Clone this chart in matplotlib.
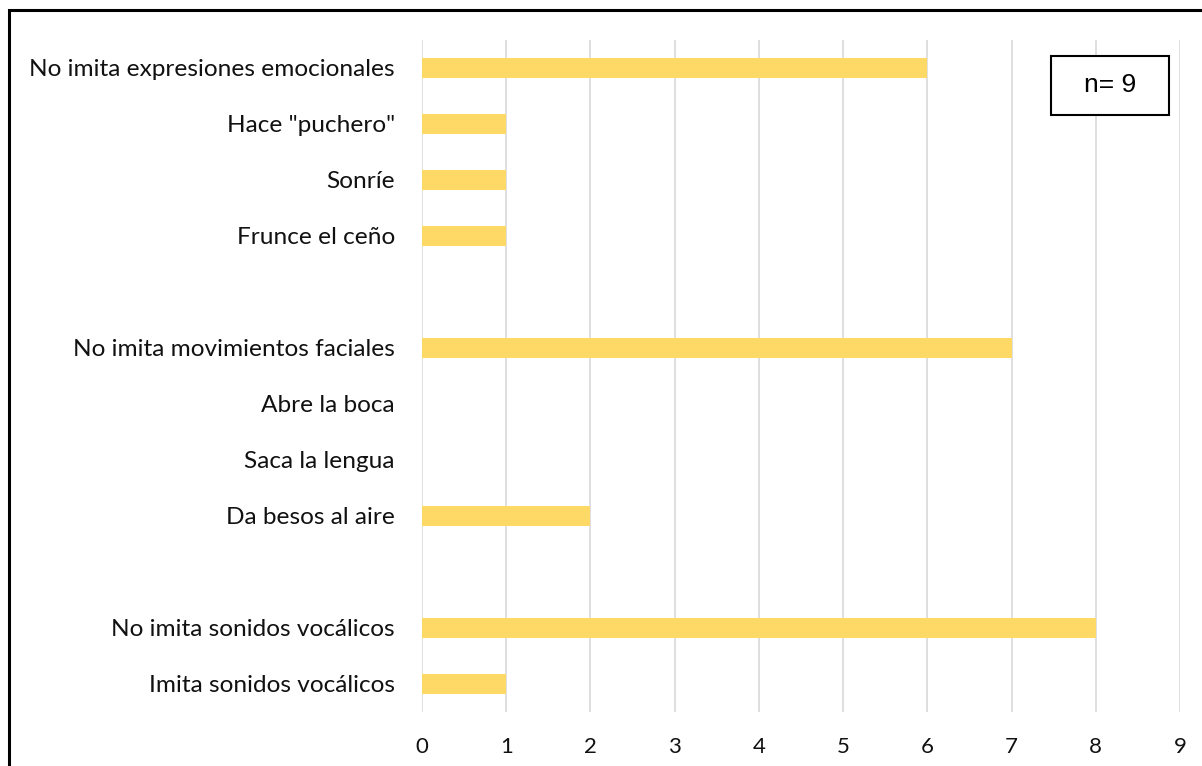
import matplotlib
matplotlib.use("Agg")
import matplotlib.pyplot as plt
from matplotlib.patches import Rectangle

categories = ["No imita expresiones emocionales", 'Hace "puchero"', "Sonríe", "Frunce el ceño", "",
              "No imita movimientos faciales", "Abre la boca", "Saca la lengua", "Da besos al aire", "",
              "No imita sonidos vocálicos", "Imita sonidos vocálicos"]
values = [6, 1, 1, 1, 0, 7, 0, 0, 2, 0, 8, 1]
xticks = list(range(0, 10))

W, H = 1202, 766
fig = plt.figure(figsize=(W / 100, H / 100), dpi=100)
ax = fig.add_axes([422 / W, (H - 712) / H, (1180 - 422) / W, (712 - 40) / H])

pos = list(range(len(categories)))
ax.barh(pos, values, height=0.36, color="#FFD966", zorder=2)
ax.set_ylim(len(categories) - 0.5, -0.5)
ax.set_xlim(0, 9)
ax.set_xticks(xticks)
ax.set_yticks(pos)
ax.set_yticklabels(categories, fontsize=17.6, family="Lato", color="#111111")
ax.set_xticklabels([str(t) for t in xticks], fontsize=16, family="Lato", color="#111111")
ax.tick_params(axis="both", length=0)
ax.tick_params(axis="y", pad=19.5)
ax.tick_params(axis="x", pad=18)
ax.grid(axis="x", color="#D9D9D9", linewidth=1.2, zorder=0)
for s in ax.spines.values():
    s.set_visible(False)

# outer frame
fig.patches.append(Rectangle((9 / W, -0.1), 1.2, (H - 10) / H + 0.1, transform=fig.transFigure,
                             fill=False, edgecolor="black", linewidth=2.2, zorder=10))
# n box
fig.patches.append(Rectangle((1051 / W, (H - 115) / H), (1169 - 1051) / W, (115 - 56) / H,
                             transform=fig.transFigure, fill=True, facecolor="white",
                             edgecolor="black", linewidth=1.5, zorder=10))
fig.text((1051 + 1169) / 2 / W, (H - 85.5) / H, "n= 9", ha="center", va="center",
         fontsize=19, family="Liberation Sans", zorder=11)

fig.savefig("out.png", dpi=100)
